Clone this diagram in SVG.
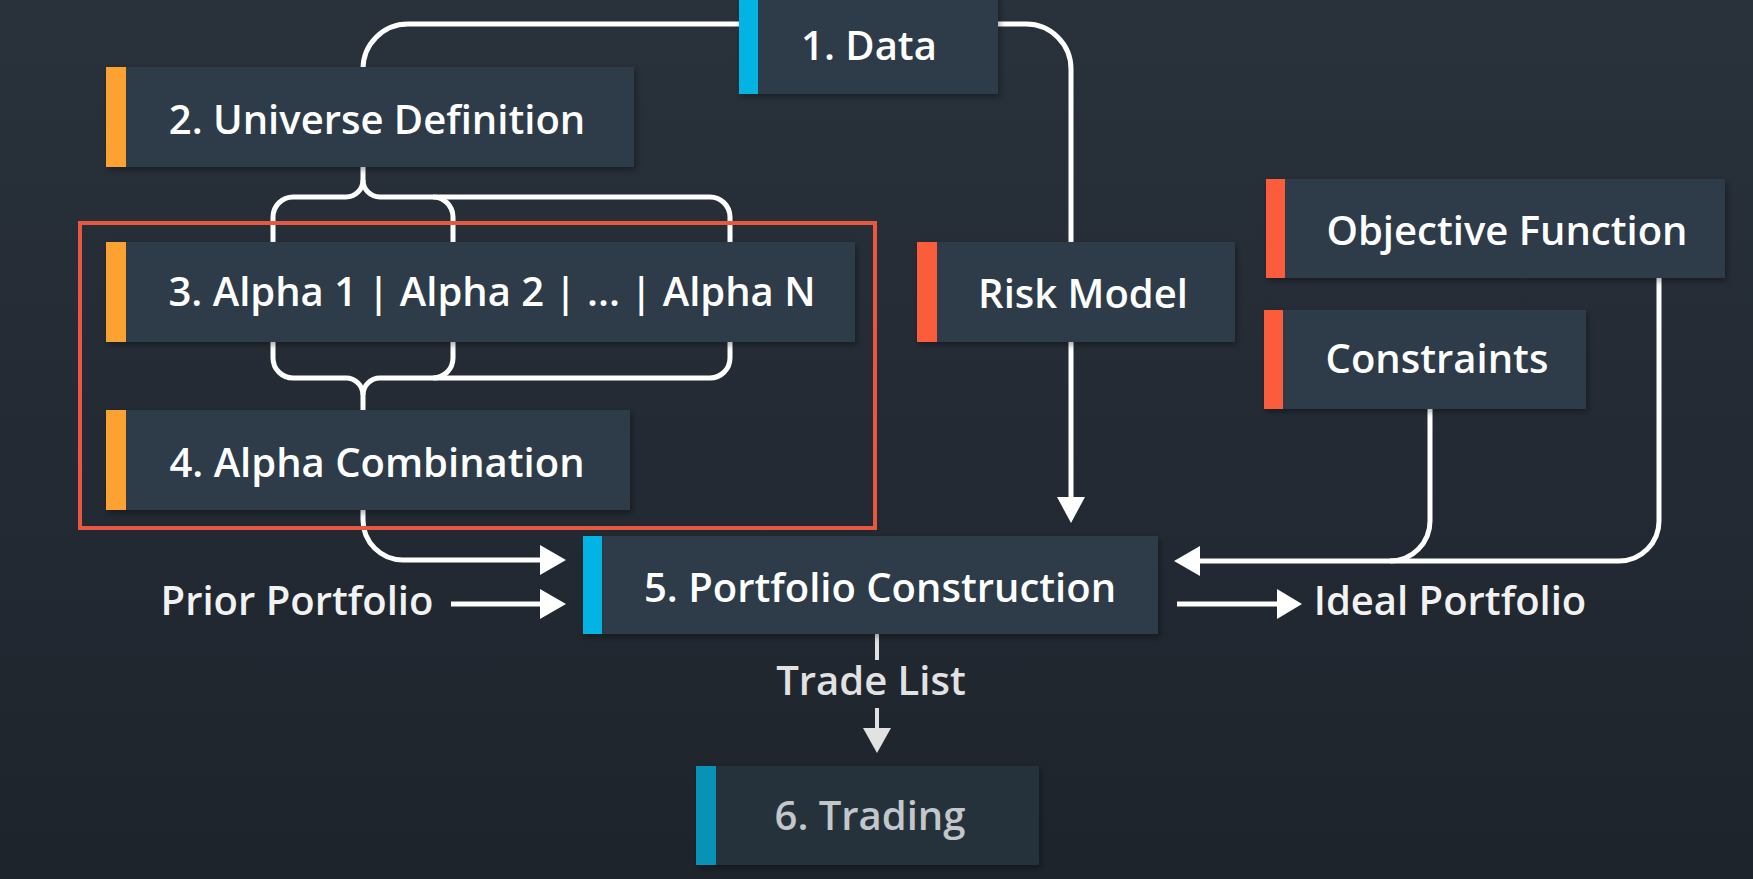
<svg xmlns="http://www.w3.org/2000/svg" width="1753" height="879" viewBox="0 0 1753 879">
  <defs>
    <linearGradient id="bg" x1="0" y1="0" x2="0" y2="1">
      <stop offset="0" stop-color="#29313b"/>
      <stop offset="1" stop-color="#1e242c"/>
    </linearGradient>
    <filter id="sh" x="-10%" y="-20%" width="120%" height="150%">
      <feDropShadow dx="2" dy="3" stdDeviation="3" flood-color="#000" flood-opacity="0.35"/>
    </filter>
    <style>
      .box { fill: #2e3a48; filter: url(#sh); }
      .box-dim { fill: #27303b; filter: url(#sh); }
      .orange { fill: #fca232; }
      .blue { fill: #02b3e4; }
      .blue-dim { fill: #0892b6; }
      .red { fill: #fb5d3c; }
      .lbl { font-family: "Open Sans", "Noto Sans", "DejaVu Sans", sans-serif; font-size: 40px; font-weight: 600; fill: #ffffff; text-anchor: middle; }
      .lbl-dim { fill: #c3c7cb; }
      .free { fill: #f2f2f2; }
      .wire { fill: none; stroke: #ffffff; stroke-width: 5; stroke-linecap: butt; }
      .wire-gray { fill: none; stroke: #e2e2e2; stroke-width: 4; }
      .head { fill: #ffffff; }
      .head-gray { fill: #e2e2e2; }
    </style>
  </defs>

  <rect x="0" y="0" width="1753" height="879" fill="url(#bg)"/>

  <g id="connectors">
    <!-- Data -> Universe -->
    <path class="wire" d="M740,24 H408 A45,45 0 0 0 363,69 V70"/>
    <!-- Data -> Risk Model -->
    <path class="wire" d="M996,24 H1026 A45,45 0 0 1 1071,69 V244"/>
    <!-- Universe -> Alphas (brace) -->
    <path class="wire" d="M363,165 V180 A17,17 0 0 1 346,197 H293 A20,20 0 0 0 273,217 V244"/>
    <path class="wire" d="M363,180 A17,17 0 0 0 380,197 H433 A20,20 0 0 1 453,217 V244"/>
    <path class="wire" d="M433,197 H710 A20,20 0 0 1 730,217 V244"/>
    <!-- Alphas -> Alpha Combination (brace) -->
    <path class="wire" d="M273,340 V358 A20,20 0 0 0 293,378 H346 A17,17 0 0 1 363,395 V412"/>
    <path class="wire" d="M453,340 V358 A20,20 0 0 1 433,378 H380 A17,17 0 0 0 363,395"/>
    <path class="wire" d="M730,340 V358 A20,20 0 0 1 710,378 H433"/>
    <!-- Alpha Combination -> Portfolio Construction -->
    <path class="wire" d="M363,508 V520 A40,40 0 0 0 403,560 H542"/>
    <polygon class="head" points="540,545 566,560 540,575"/>
    <!-- Prior Portfolio -> Portfolio Construction -->
    <path class="wire" d="M451,604 H542"/>
    <polygon class="head" points="540,589 566,604 540,619"/>
    <!-- Risk Model -> Portfolio Construction -->
    <path class="wire" d="M1071,340 V499"/>
    <polygon class="head" points="1057,497 1085,497 1071,523"/>
    <!-- Objective / Constraints -> Portfolio Construction -->
    <path class="wire" d="M1659,276 V521 A40,40 0 0 1 1619,561 H1198"/>
    <path class="wire" d="M1430,407 V521 A40,40 0 0 1 1390,561"/>
    <polygon class="head" points="1200,546 1174,561 1200,576"/>
    <!-- Portfolio Construction -> Ideal Portfolio -->
    <path class="wire" d="M1177,604 H1279"/>
    <polygon class="head" points="1277,589 1302,604 1277,619"/>
    <!-- Portfolio Construction -> Trading -->
    <path class="wire-gray" d="M877,634 V660"/>
    <path class="wire-gray" d="M877,708 V730"/>
    <polygon class="head-gray" points="863,728 891,728 877,753"/>
  </g>

  <rect id="focus" x="80" y="223" width="795" height="305" fill="none" stroke="#e8583f" stroke-width="4"/>

  <g id="data">
    <rect class="box" x="739" y="-6" width="259" height="100"/>
    <rect class="blue" x="739" y="-6" width="19" height="100"/>
    <text class="lbl" x="869" y="60">1. Data</text>
  </g>
  <g id="universe">
    <rect class="box" x="106" y="67" width="528" height="100"/>
    <rect class="orange" x="106" y="67" width="20" height="100"/>
    <text class="lbl" x="377" y="134">2. Universe Definition</text>
  </g>
  <g id="alpha">
    <rect class="box" x="106" y="242" width="749" height="100"/>
    <rect class="orange" x="106" y="242" width="20" height="100"/>
    <text class="lbl" x="492" y="306">3. Alpha 1 | Alpha 2 | ... | Alpha N</text>
  </g>
  <g id="combination">
    <rect class="box" x="106" y="410" width="524" height="100"/>
    <rect class="orange" x="106" y="410" width="20" height="100"/>
    <text class="lbl" x="377" y="477">4. Alpha Combination</text>
  </g>
  <g id="risk">
    <rect class="box" x="917" y="242" width="318" height="100"/>
    <rect class="red" x="917" y="242" width="20" height="100"/>
    <text class="lbl" x="1083" y="308">Risk Model</text>
  </g>
  <g id="objective">
    <rect class="box" x="1266" y="179" width="459" height="99"/>
    <rect class="red" x="1266" y="179" width="19" height="99"/>
    <text class="lbl" x="1507" y="245">Objective Function</text>
  </g>
  <g id="constraints">
    <rect class="box" x="1264" y="310" width="322" height="99"/>
    <rect class="red" x="1264" y="310" width="19" height="99"/>
    <text class="lbl" x="1437" y="373">Constraints</text>
  </g>
  <g id="construction">
    <rect class="box" x="583" y="536" width="575" height="98"/>
    <rect class="blue" x="583" y="536" width="19" height="98"/>
    <text class="lbl" x="880" y="602">5. Portfolio Construction</text>
  </g>
  <g id="trading">
    <rect class="box-dim" x="696" y="766" width="343" height="99"/>
    <rect class="blue-dim" x="696" y="766" width="20" height="99"/>
    <text class="lbl lbl-dim" x="870" y="830">6. Trading</text>
  </g>

  <g id="labels">
    <text class="lbl free" x="297" y="615">Prior Portfolio</text>
    <text class="lbl free" x="1450" y="615">Ideal Portfolio</text>
    <text class="lbl" x="871" y="695" style="fill:#e2e2e2">Trade List</text>
  </g>
</svg>
